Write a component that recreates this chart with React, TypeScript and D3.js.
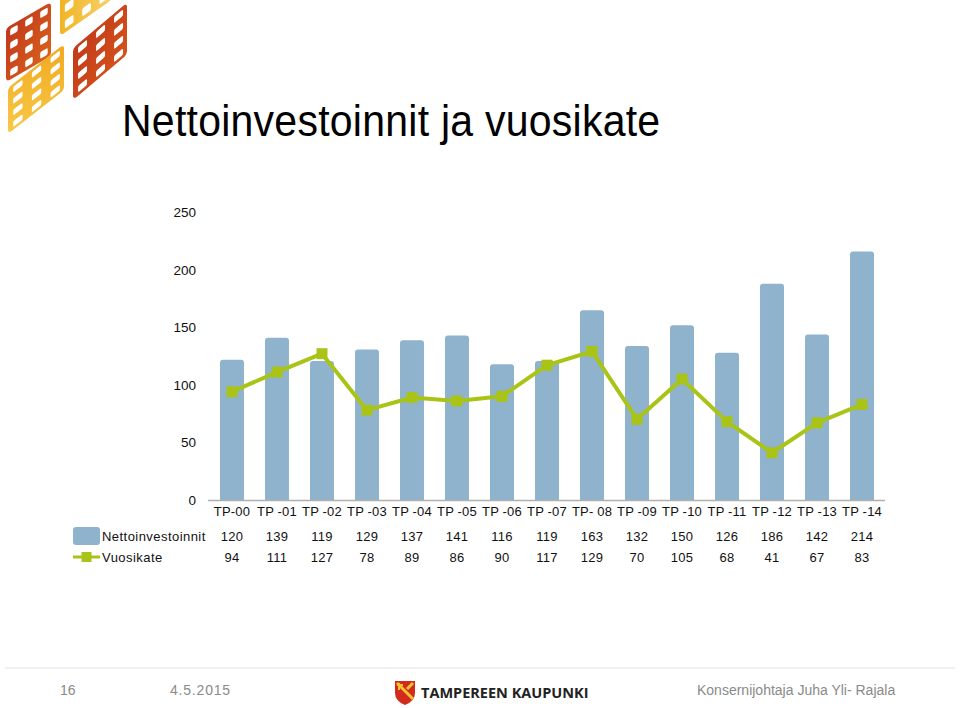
import React from "react";
import * as d3 from "d3";

const categories = ["TP-00", "TP -01", "TP -02", "TP -03", "TP -04", "TP -05", "TP -06", "TP -07", "TP- 08", "TP -09", "TP -10", "TP -11", "TP -12", "TP -13", "TP -14"];
const nettoinvestoinnit = [120, 139, 119, 129, 137, 141, 116, 119, 163, 132, 150, 126, 186, 142, 214];
const vuosikate = [94, 111, 127, 78, 89, 86, 90, 117, 129, 70, 105, 68, 41, 67, 83];
const yTicks = [0, 50, 100, 150, 200, 250];

const BAR = "#8fb3cd";
const LINE = "#a9c416";
const FONT = "'Liberation Sans', Arial, sans-serif";

function LogoPiece({ x, y, w, h, skew, cols, rows, fill }: any) {
  const cw = w / cols;
  const rh = h / rows;
  const cells: any[] = [];
  for (let c = 0; c < cols; c++) {
    for (let r = 0; r < rows; r++) {
      cells.push(
        <rect key={c + "-" + r} x={c * cw + cw * 0.28} y={r * rh + rh * 0.25} width={cw * 0.5} height={rh * 0.5} rx={1.5} fill="#fff" />
      );
    }
  }
  return (
    <g transform={`translate(${x},${y}) skewY(${skew})`}>
      <rect x={0} y={0} width={w} height={h} rx={4} fill={fill} />
      {cells}
    </g>
  );
}

export default function App() {
  const x = d3.scaleBand<string>().domain(categories).range([209.5, 884.5]).paddingInner(0.467).paddingOuter(0.233);
  const y = d3.scaleLinear().domain([0, 250]).range([500, 212]);
  const cx = (i: number) => (x(categories[i]) as number) + x.bandwidth() / 2;
  const line = d3.line<number>().x((_, i) => cx(i)).y((d) => y(d));
  const bw = x.bandwidth();

  return (
    <svg width={960} height={708} style={{ position: "absolute", left: 0, top: 0, background: "#fff" }} fontFamily={FONT}>
      <defs>
        <linearGradient id="gRed" x1="0" y1="0" x2="1" y2="1">
          <stop offset="0" stopColor="#c0361c" />
          <stop offset="1" stopColor="#d9621c" />
        </linearGradient>
        <linearGradient id="gRed2" x1="0" y1="0" x2="1" y2="1">
          <stop offset="0" stopColor="#c23a1a" />
          <stop offset="1" stopColor="#d4521a" />
        </linearGradient>
        <linearGradient id="gYel" x1="0" y1="1" x2="1" y2="0">
          <stop offset="0" stopColor="#f7c948" />
          <stop offset="1" stopColor="#f2a81e" />
        </linearGradient>
        <linearGradient id="gYel2" x1="0" y1="0" x2="1" y2="0">
          <stop offset="0" stopColor="#f2b425" />
          <stop offset="1" stopColor="#f6d26a" />
        </linearGradient>
        <clipPath id="logoClip">
          <rect x={0} y={0} width={140} height={140} />
        </clipPath>
      </defs>

      <rect x={0} y={0} width={960} height={708} fill="#fff" />

      {/* logo */}
      <g clipPath="url(#logoClip)">
        <LogoPiece x={60} y={-12} w={52} h={48} skew={-35} cols={3} rows={3} fill="url(#gYel2)" />
        <LogoPiece x={6} y={28} w={45} h={54} skew={-30} cols={3} rows={4} fill="url(#gRed)" />
        <LogoPiece x={73} y={48} w={54} h={52} skew={-40} cols={3} rows={4} fill="url(#gRed2)" />
        <LogoPiece x={8} y={88} w={56} h={46} skew={-38} cols={3} rows={4} fill="url(#gYel)" />
      </g>

      {/* title */}
      <text x={122} y={0} fontSize={41} letterSpacing={0.25} fill="#000" transform="translate(0,136) scale(1,1.09)">Nettoinvestoinnit ja vuosikate</text>

      {/* y ticks */}
      {yTicks.map((t) => (
        <text key={t} x={196} y={y(t) + 5} fontSize={13.5} textAnchor="end" fill="#111">{t}</text>
      ))}

      {/* bars */}
      {nettoinvestoinnit.map((v, i) => {
        const x0 = x(categories[i]) as number;
        const top = y(v) - 2;
        return (
          <path
            key={i}
            d={`M${x0},500 V${top + 3} Q${x0},${top} ${x0 + 3},${top} H${x0 + bw - 3} Q${x0 + bw},${top} ${x0 + bw},${top + 3} V500 Z`}
            fill={BAR}
          />
        );
      })}

      {/* baseline */}
      <line x1={208} x2={885} y1={500.5} y2={500.5} stroke="#b0b0b0" strokeWidth={1.5} />

      {/* line */}
      <path d={line(vuosikate) as string} fill="none" stroke={LINE} strokeWidth={4} strokeLinejoin="round" />
      {vuosikate.map((v, i) => (
        <rect key={i} x={cx(i) - 5.5} y={y(v) - 5.5} width={11} height={11} fill={LINE} />
      ))}

      {/* data table */}
      {categories.map((c, i) => (
        <text key={c} x={cx(i)} y={516} fontSize={13} letterSpacing={0.2} textAnchor="middle" fill="#111">{c}</text>
      ))}
      <rect x={73} y={527} width={27} height={18} rx={3} fill={BAR} />
      <text x={102} y={541} fontSize={13} fill="#111" letterSpacing={0.45}>Nettoinvestoinnit</text>
      {nettoinvestoinnit.map((v, i) => (
        <text key={i} x={cx(i)} y={541} fontSize={13} letterSpacing={0.3} textAnchor="middle" fill="#111">{v}</text>
      ))}
      <line x1={73} x2={100} y1={557} y2={557} stroke={LINE} strokeWidth={3} />
      <rect x={81.5} y={552} width={10} height={10} fill={LINE} />
      <text x={102} y={562} fontSize={13} fill="#111" letterSpacing={0.45}>Vuosikate</text>
      {vuosikate.map((v, i) => (
        <text key={i} x={cx(i)} y={562} fontSize={13} letterSpacing={0.3} textAnchor="middle" fill="#111">{v}</text>
      ))}

      {/* footer */}
      <line x1={5} x2={955} y1={668} y2={668} stroke="#ececec" strokeWidth={1.5} />
      <text x={60} y={695} fontSize={14} fill="#8a8a8a">16</text>
      <text x={170} y={695} fontSize={14} fill="#8a8a8a" letterSpacing={0.8}>4.5.2015</text>
      <g transform="translate(395,681)">
        <path d="M0,0 H20 V12 Q20,20 10,24 Q0,20 0,12 Z" fill="#d32a1e" />
        <path d="M2,2 L18,18 M18,2 L12,8" stroke="#f4c430" strokeWidth={3} fill="none" />
        <path d="M2,4 H8 M4,2 V9" stroke="#f4c430" strokeWidth={2} />
      </g>
      <text x={421} y={698} fontSize={14.5} fontWeight="bold" fill="#222" fontFamily="'Open Sans', 'Liberation Sans', sans-serif">TAMPEREEN KAUPUNKI</text>
      <text x={697} y={695} fontSize={14} fill="#8a8a8a">Konsernijohtaja Juha Yli- Rajala</text>
    </svg>
  );
}
